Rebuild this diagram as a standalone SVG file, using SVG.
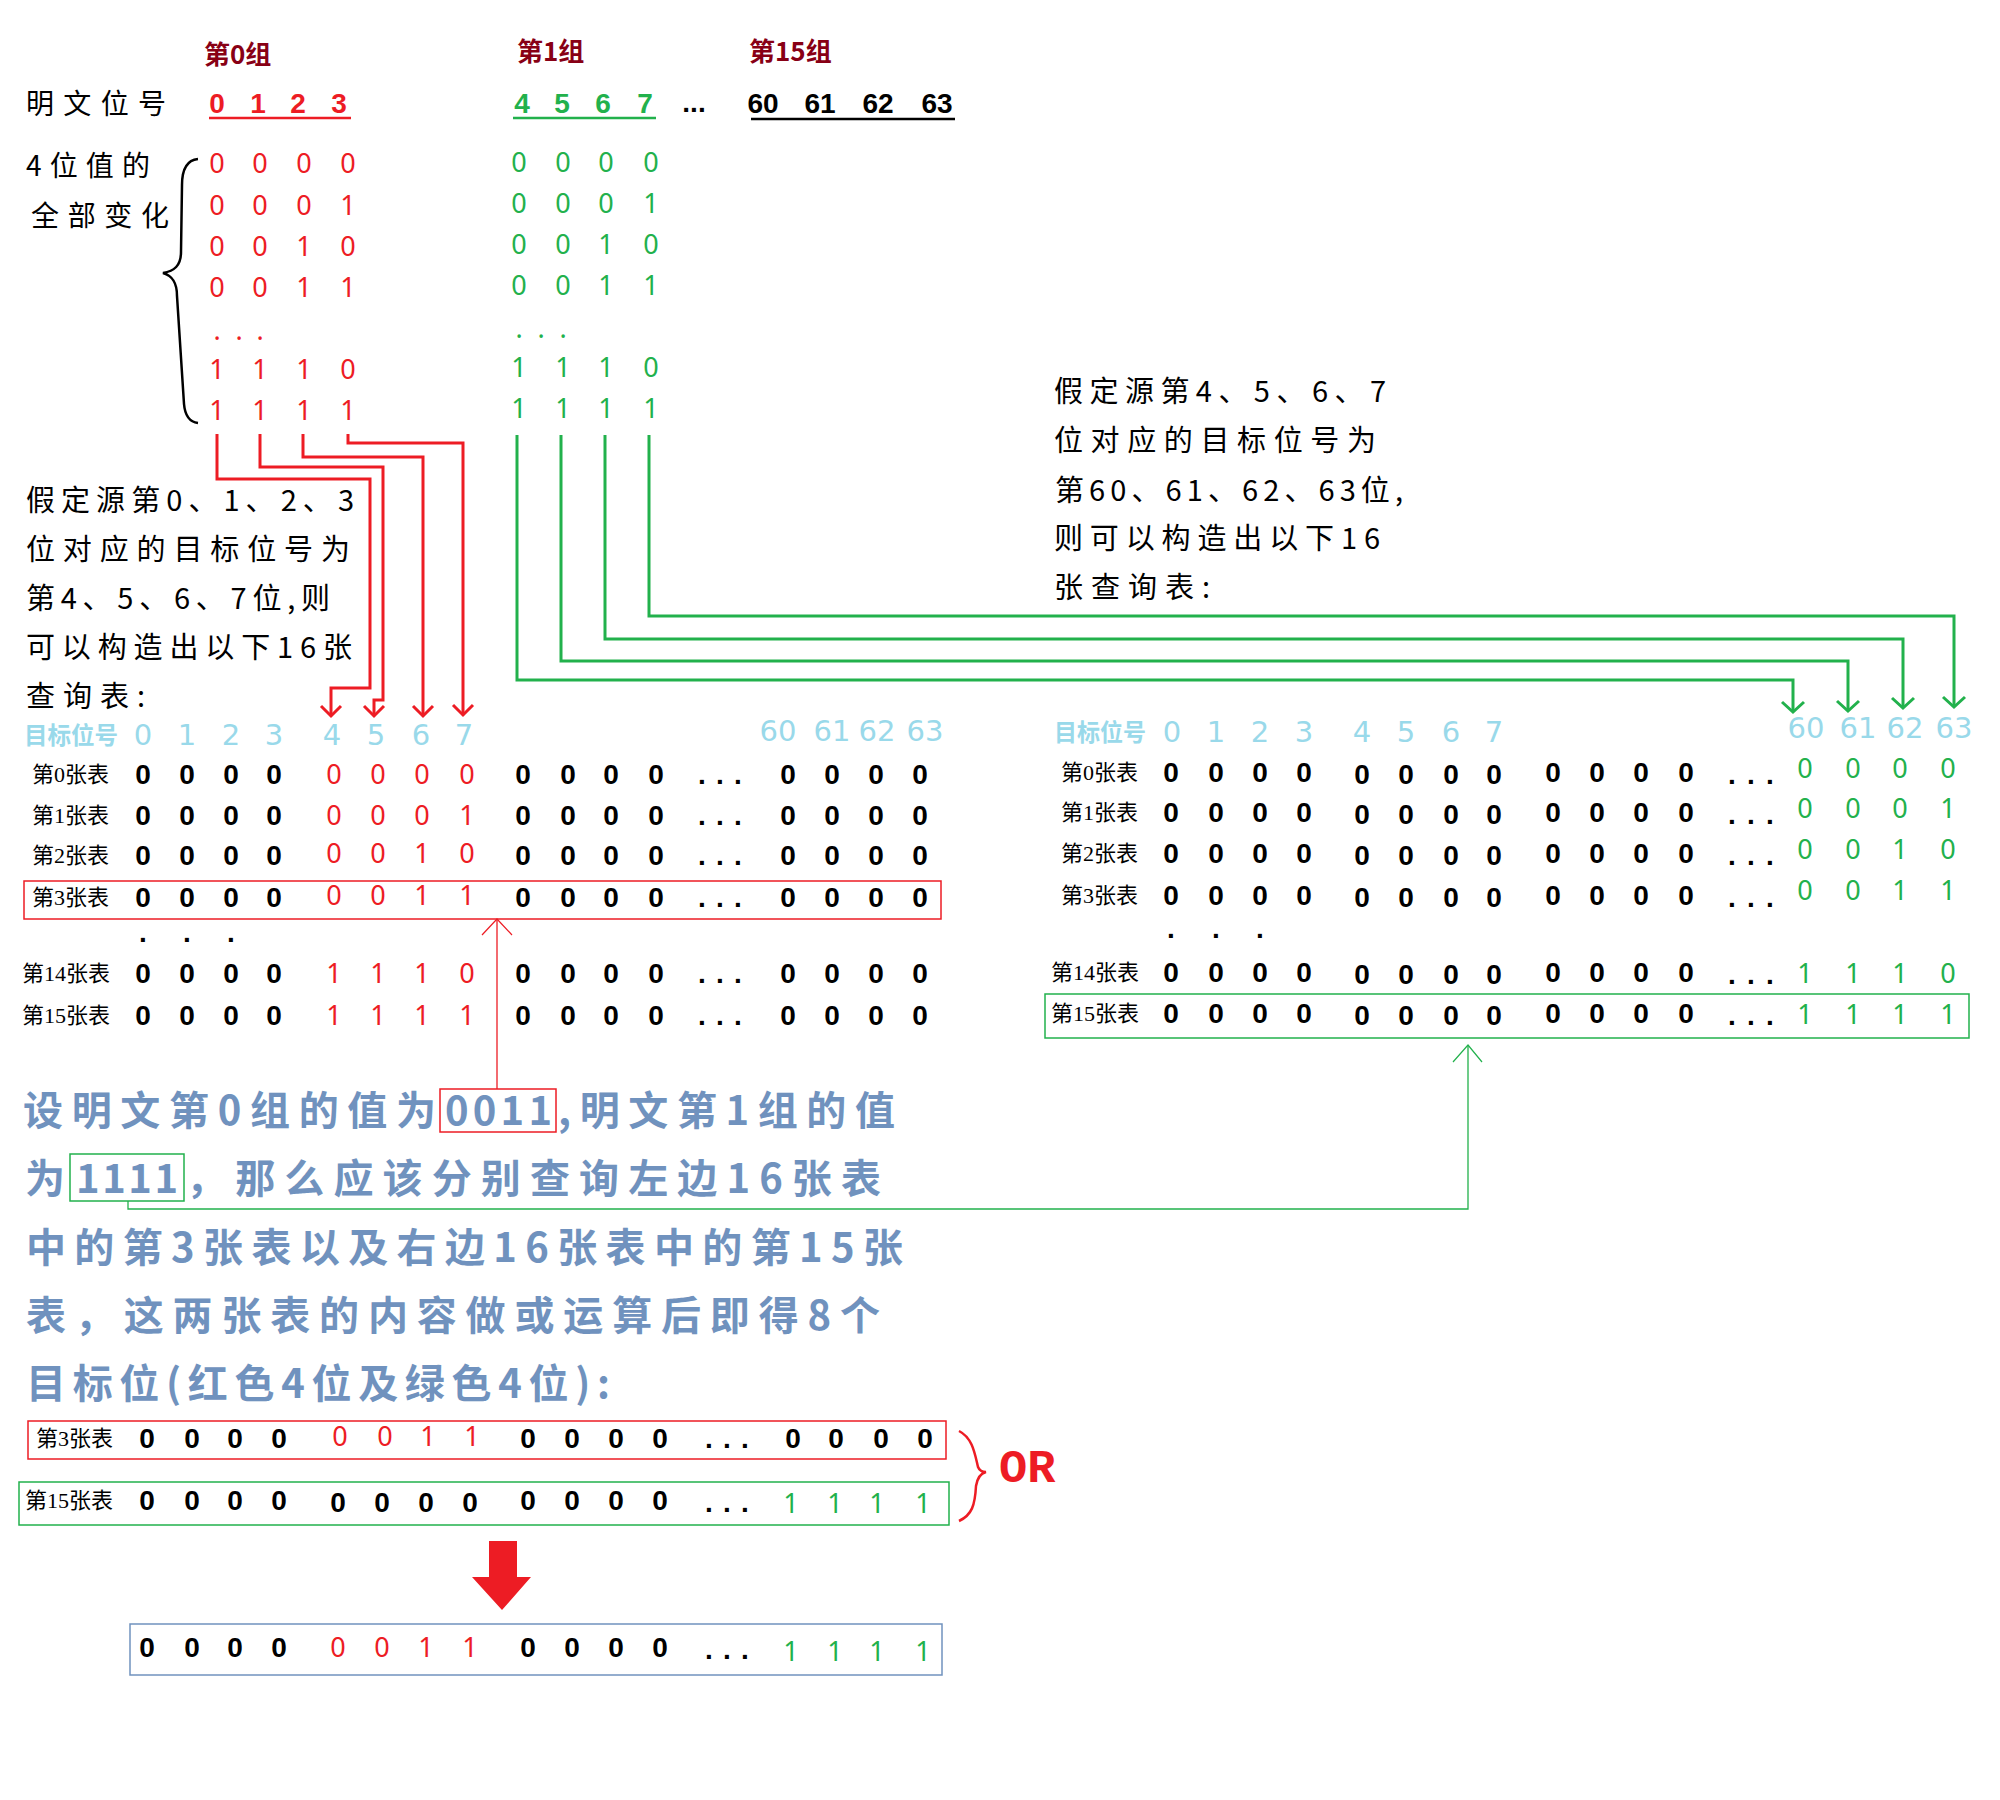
<svg xmlns="http://www.w3.org/2000/svg" width="2000" height="1800" viewBox="0 0 2000 1800">
<defs>
<style>
.cn{font-family:"Noto Sans CJK SC","Noto Sans",sans-serif}
.lbl{font-family:"Liberation Serif","Noto Sans CJK SC",serif;font-size:22px;fill:#000}
.hd{font-family:"Liberation Sans","Noto Sans CJK SC",sans-serif;font-size:28px;font-weight:bold;text-anchor:middle}
.d{font-family:"Noto Sans","Liberation Sans",sans-serif;font-size:27px;text-anchor:middle}
.k{fill:#000;font-weight:bold;font-family:"Liberation Sans",sans-serif;font-size:28px}
.r{fill:#ED1C24}
.g{fill:#22B14C}
.lb{fill:#99D9EA}
.tb{font-family:"DejaVu Sans",sans-serif;font-size:29px;text-anchor:middle;fill:#99D9EA}
.para{font-family:"Noto Sans CJK SC",serif;font-size:29px;fill:#000}
.blue{font-family:"Noto Sans CJK SC",sans-serif;font-size:40px;font-weight:bold;fill:#7092BE}
.thickR{fill:none;stroke:#ED1C24;stroke-width:3}
.thickG{fill:none;stroke:#22B14C;stroke-width:3}
.thin{fill:none;stroke-width:1.3}
</style>
<marker id="arR" markerUnits="userSpaceOnUse" orient="auto" markerWidth="30" markerHeight="30" refX="0" refY="0" viewBox="-15 -15 30 30" style="overflow:visible"><path d="M-10,-10 L0,0 L-10,10" fill="none" stroke="#ED1C24" stroke-width="3"/></marker>
<marker id="arG" markerUnits="userSpaceOnUse" orient="auto" markerWidth="30" markerHeight="30" refX="0" refY="0" viewBox="-15 -15 30 30" style="overflow:visible"><path d="M-10,-11 L0,0 L-10,11" fill="none" stroke="#22B14C" stroke-width="3"/></marker>
<marker id="thR" markerUnits="userSpaceOnUse" orient="auto" markerWidth="40" markerHeight="40" refX="0" refY="0" viewBox="-20 -20 40 40" style="overflow:visible"><path d="M-16,-15 L0,0 L-16,15" fill="none" stroke="#ED1C24" stroke-width="1.2"/></marker>
<marker id="thG" markerUnits="userSpaceOnUse" orient="auto" markerWidth="40" markerHeight="40" refX="0" refY="0" viewBox="-20 -20 40 40" style="overflow:visible"><path d="M-17,-15 L0,0 L-17,14" fill="none" stroke="#22B14C" stroke-width="1.2"/></marker>
</defs>
<rect width="2000" height="1800" fill="#fff"/>

<g id="group-titles" class="cn" font-size="26" font-weight="bold" fill="#880015">
<text x="204" y="64">第0组</text>
<text x="517" y="61">第1组</text>
<text x="749" y="61">第15组</text>
</g>

<g id="plain-positions">
<text class="cn" x="26" y="114" font-size="28" textLength="140" lengthAdjust="spacing">明文位号</text>
<text class="hd r" x="217 258 298 339" y="113">0123</text>
<line x1="209" y1="118" x2="351" y2="118" stroke="#ED1C24" stroke-width="2.5"/>
<text class="hd g" x="522 562 603 645" y="113">4567</text>
<line x1="513" y1="118" x2="656" y2="118" stroke="#22B14C" stroke-width="2.5"/>
<text class="hd" x="694" y="112" font-size="20" fill="#000">...</text>
<text class="hd" x="763" y="113" fill="#000">60</text>
<text class="hd" x="820" y="113" fill="#000">61</text>
<text class="hd" x="878" y="113" fill="#000">62</text>
<text class="hd" x="937" y="113" fill="#000">63</text>
<line x1="751" y1="119" x2="955" y2="119" stroke="#000" stroke-width="2.5"/>
</g>

<g id="all-values-label">
<text class="cn" x="26" y="176" font-size="28" textLength="124" lengthAdjust="spacing">4位值的</text>
<text class="cn" x="31" y="226" font-size="28" textLength="138" lengthAdjust="spacing">全部变化</text>
<path d="M198,159 C188,160 182,168 182,185 L181,252 C181,266 174,271 163,273 C173,276 177,283 177,296 L184,404 C185,416 190,422 198,423" fill="none" stroke="#000" stroke-width="2.5"/>
</g>

<g id="values-group0" class="d r">
<text x="217 260 304 348" y="173">0000</text>
<text x="217 260 304 348" y="215">0001</text>
<text x="217 260 304 348" y="256">0010</text>
<text x="217 260 304 348" y="297">0011</text>
<text x="217 239 260" y="340">...</text>
<text x="217 260 304 348" y="379">1110</text>
<text x="217 260 304 348" y="420">1111</text>
</g>

<g id="values-group1" class="d g">
<text x="519 563 606 651" y="172">0000</text>
<text x="519 563 606 651" y="213">0001</text>
<text x="519 563 606 651" y="254">0010</text>
<text x="519 563 606 651" y="295">0011</text>
<text x="519 541 563" y="338">...</text>
<text x="519 563 606 651" y="377">1110</text>
<text x="519 563 606 651" y="418">1111</text>
</g>

<g id="note-left" class="para">
<text x="26" y="511" textLength="328" lengthAdjust="spacing">假定源第0、1、2、3</text>
<text x="26" y="560" textLength="324" lengthAdjust="spacing">位对应的目标位号为</text>
<text x="26" y="609" textLength="304" lengthAdjust="spacing">第4、5、6、7位,则</text>
<text x="26" y="658" textLength="326" lengthAdjust="spacing">可以构造出以下16张</text>
<text x="26" y="707" textLength="119" lengthAdjust="spacing">查询表:</text>
</g>

<g id="note-right" class="para">
<text x="1054" y="402" textLength="332" lengthAdjust="spacing">假定源第4、5、6、7</text>
<text x="1054" y="451" textLength="322" lengthAdjust="spacing">位对应的目标位号为</text>
<text x="1055" y="501" textLength="348" lengthAdjust="spacing">第60、61、62、63位,</text>
<text x="1054" y="549" textLength="326" lengthAdjust="spacing">则可以构造出以下16</text>
<text x="1054" y="598" textLength="156" lengthAdjust="spacing">张查询表:</text>
</g>

<g id="table-left">
<text class="cn lb" x="24" y="744" font-size="24" font-weight="bold" textLength="94" lengthAdjust="spacingAndGlyphs">目标位号</text>
<text class="tb" x="143 187 231 274 332 376 421 464" y="745">01234567</text>
<text class="tb" x="778" y="741">60</text>
<text class="tb" x="832" y="741">61</text>
<text class="tb" x="877" y="741">62</text>
<text class="tb" x="925" y="741">63</text>

<text class="lbl" x="32" y="782">第0张表</text>
<text class="d k" x="143 187 231 274" y="784">0000</text>
<text class="d r" x="334 378 422 467" y="784">0000</text>
<text class="d k" x="523 568 611 656" y="784">0000</text>
<text class="d k" x="702 720 738" y="784">...</text>
<text class="d k" x="788 832 876 920" y="784">0000</text>

<text class="lbl" x="32" y="823">第1张表</text>
<text class="d k" x="143 187 231 274" y="825">0000</text>
<text class="d r" x="334 378 422 467" y="825">0001</text>
<text class="d k" x="523 568 611 656" y="825">0000</text>
<text class="d k" x="702 720 738" y="825">...</text>
<text class="d k" x="788 832 876 920" y="825">0000</text>

<text class="lbl" x="32" y="863">第2张表</text>
<text class="d k" x="143 187 231 274" y="865">0000</text>
<text class="d r" x="334 378 422 467" y="863">0010</text>
<text class="d k" x="523 568 611 656" y="865">0000</text>
<text class="d k" x="702 720 738" y="865">...</text>
<text class="d k" x="788 832 876 920" y="865">0000</text>

<rect x="24" y="881" width="917" height="38" fill="none" stroke="#ED1C24" stroke-width="1.5"/>
<text class="lbl" x="32" y="905">第3张表</text>
<text class="d k" x="143 187 231 274" y="907">0000</text>
<text class="d r" x="334 378 422 467" y="905">0011</text>
<text class="d k" x="523 568 611 656" y="907">0000</text>
<text class="d k" x="702 720 738" y="907">...</text>
<text class="d k" x="788 832 876 920" y="907">0000</text>

<text class="d k" x="143 187 231" y="942">...</text>

<text class="lbl" x="22" y="981">第14张表</text>
<text class="d k" x="143 187 231 274" y="983">0000</text>
<text class="d r" x="334 378 422 467" y="983">1110</text>
<text class="d k" x="523 568 611 656" y="983">0000</text>
<text class="d k" x="702 720 738" y="983">...</text>
<text class="d k" x="788 832 876 920" y="983">0000</text>

<text class="lbl" x="22" y="1023">第15张表</text>
<text class="d k" x="143 187 231 274" y="1025">0000</text>
<text class="d r" x="334 378 422 467" y="1025">1111</text>
<text class="d k" x="523 568 611 656" y="1025">0000</text>
<text class="d k" x="702 720 738" y="1025">...</text>
<text class="d k" x="788 832 876 920" y="1025">0000</text>
</g>

<g id="table-right">
<text class="cn lb" x="1054" y="741" font-size="24" font-weight="bold" textLength="92" lengthAdjust="spacingAndGlyphs">目标位号</text>
<text class="tb" x="1172 1216 1260 1304 1362 1406 1451 1494" y="742">01234567</text>
<text class="tb" x="1806" y="738">60</text>
<text class="tb" x="1858" y="738">61</text>
<text class="tb" x="1905" y="738">62</text>
<text class="tb" x="1954" y="738">63</text>

<text class="lbl" x="1061" y="780">第0张表</text>
<text class="d k" x="1171 1216 1260 1304" y="782">0000</text>
<text class="d k" x="1362 1406 1451 1494" y="784">0000</text>
<text class="d k" x="1553 1597 1641 1686" y="782">0000</text>
<text class="d k" x="1732 1751 1770" y="784">...</text>
<text class="d g" x="1805 1853 1900 1948" y="778">0000</text>

<text class="lbl" x="1061" y="820">第1张表</text>
<text class="d k" x="1171 1216 1260 1304" y="822">0000</text>
<text class="d k" x="1362 1406 1451 1494" y="824">0000</text>
<text class="d k" x="1553 1597 1641 1686" y="822">0000</text>
<text class="d k" x="1732 1751 1770" y="824">...</text>
<text class="d g" x="1805 1853 1900 1948" y="818">0001</text>

<text class="lbl" x="1061" y="861">第2张表</text>
<text class="d k" x="1171 1216 1260 1304" y="863">0000</text>
<text class="d k" x="1362 1406 1451 1494" y="865">0000</text>
<text class="d k" x="1553 1597 1641 1686" y="863">0000</text>
<text class="d k" x="1732 1751 1770" y="865">...</text>
<text class="d g" x="1805 1853 1900 1948" y="859">0010</text>

<text class="lbl" x="1061" y="903">第3张表</text>
<text class="d k" x="1171 1216 1260 1304" y="905">0000</text>
<text class="d k" x="1362 1406 1451 1494" y="907">0000</text>
<text class="d k" x="1553 1597 1641 1686" y="905">0000</text>
<text class="d k" x="1732 1751 1770" y="907">...</text>
<text class="d g" x="1805 1853 1900 1948" y="900">0011</text>

<text class="d k" x="1171 1216 1260" y="938">...</text>

<text class="lbl" x="1051" y="980">第14张表</text>
<text class="d k" x="1171 1216 1260 1304" y="982">0000</text>
<text class="d k" x="1362 1406 1451 1494" y="984">0000</text>
<text class="d k" x="1553 1597 1641 1686" y="982">0000</text>
<text class="d k" x="1732 1751 1770" y="984">...</text>
<text class="d g" x="1805 1853 1900 1948" y="983">1110</text>

<rect x="1045" y="994" width="924" height="44" fill="none" stroke="#22B14C" stroke-width="1.5"/>
<text class="lbl" x="1051" y="1021">第15张表</text>
<text class="d k" x="1171 1216 1260 1304" y="1023">0000</text>
<text class="d k" x="1362 1406 1451 1494" y="1025">0000</text>
<text class="d k" x="1553 1597 1641 1686" y="1023">0000</text>
<text class="d k" x="1732 1751 1770" y="1025">...</text>
<text class="d g" x="1805 1853 1900 1948" y="1024">1111</text>
</g>

<g id="explanation">
<text class="blue" x="23" y="1125" textLength="413" lengthAdjust="spacing">设明文第0组的值为</text>
<text class="blue" x="445" y="1125" textLength="107" lengthAdjust="spacing">0011</text>
<text class="blue" x="558" y="1125" textLength="337" lengthAdjust="spacing">,明文第1组的值</text>
<rect x="440" y="1089" width="116" height="43" fill="none" stroke="#ED1C24" stroke-width="1.5"/>
<text class="blue" x="25" y="1193">为</text>
<text class="blue" x="76" y="1193" textLength="102" lengthAdjust="spacing">1111</text>
<text class="blue" x="186" y="1193" textLength="695" lengthAdjust="spacing">，那么应该分别查询左边16张表</text>
<rect x="70" y="1154" width="114" height="47" fill="none" stroke="#22B14C" stroke-width="1.5"/>
<text class="blue" x="26" y="1262" textLength="877" lengthAdjust="spacing">中的第3张表以及右边16张表中的第15张</text>
<text class="blue" x="26" y="1330" textLength="854" lengthAdjust="spacing">表，这两张表的内容做或运算后即得8个</text>
<text class="blue" x="26" y="1398" textLength="584" lengthAdjust="spacing">目标位(红色4位及绿色4位):</text>
</g>

<g id="or-row-3">
<rect x="28" y="1421" width="918" height="38" fill="none" stroke="#ED1C24" stroke-width="1.5"/>
<text class="lbl" x="36" y="1446">第3张表</text>
<text class="d k" x="147 192 235 279" y="1448">0000</text>
<text class="d r" x="340 385 428 472" y="1446">0011</text>
<text class="d k" x="528 572 616 660" y="1448">0000</text>
<text class="d k" x="709 727 745" y="1448">...</text>
<text class="d k" x="793 836 881 925" y="1448">0000</text>
</g>

<g id="or-row-15">
<rect x="19" y="1482" width="930" height="43" fill="none" stroke="#22B14C" stroke-width="1.5"/>
<text class="lbl" x="25" y="1508">第15张表</text>
<text class="d k" x="147 192 235 279" y="1510">0000</text>
<text class="d k" x="338 382 426 470" y="1512">0000</text>
<text class="d k" x="528 572 616 660" y="1510">0000</text>
<text class="d k" x="709 727 745" y="1512">...</text>
<text class="d g" x="791 835 877 923" y="1513">1111</text>
</g>

<g id="or-label">
<path d="M959,1431 C973,1438 975,1455 978,1467 Q980,1472 986,1472 Q978,1474 976,1486 C975,1505 972,1515 959,1521" fill="none" stroke="#ED1C24" stroke-width="2.5"/>
<text x="999" y="1482" font-family="Liberation Mono, monospace" font-weight="bold" font-size="47" fill="#ED1C24">OR</text>
</g>

<g id="result-arrow">
<polygon points="489,1541 517,1541 517,1577 531,1577 502,1610 472,1577 489,1577" fill="#ED1C24"/>
</g>

<g id="result">
<rect x="130" y="1624" width="812" height="51" fill="none" stroke="#7092BE" stroke-width="1.5"/>
<text class="d k" x="147 192 235 279" y="1657">0000</text>
<text class="d r" x="338 382 426 470" y="1657">0011</text>
<text class="d k" x="528 572 616 660" y="1657">0000</text>
<text class="d k" x="709 727 745" y="1659">...</text>
<text class="d g" x="791 835 877 923" y="1661">1111</text>
</g>

<g id="connectors">
<path class="thickR" d="M217,434 V479 H370 V688 H331 V716" marker-end="url(#arR)"/>
<path class="thickR" d="M260,434 V467 H383 V700 H374 V716" marker-end="url(#arR)"/>
<path class="thickR" d="M303,434 V457 H423 V716" marker-end="url(#arR)"/>
<path class="thickR" d="M348,434 V443 H463 V715" marker-end="url(#arR)"/>
<path class="thickG" d="M517,435 V680 H1793 V712" marker-end="url(#arG)"/>
<path class="thickG" d="M561,435 V661 H1848 V711" marker-end="url(#arG)"/>
<path class="thickG" d="M605,435 V639 H1903 V708" marker-end="url(#arG)"/>
<path class="thickG" d="M649,435 V616 H1954 V707" marker-end="url(#arG)"/>
<path class="thin" stroke="#ED1C24" d="M497,1089 V919" marker-end="url(#thR)"/>
<path class="thin" stroke="#22B14C" d="M128,1201 V1209 H1468 V1045" marker-end="url(#thG)"/>
</g>
</svg>
